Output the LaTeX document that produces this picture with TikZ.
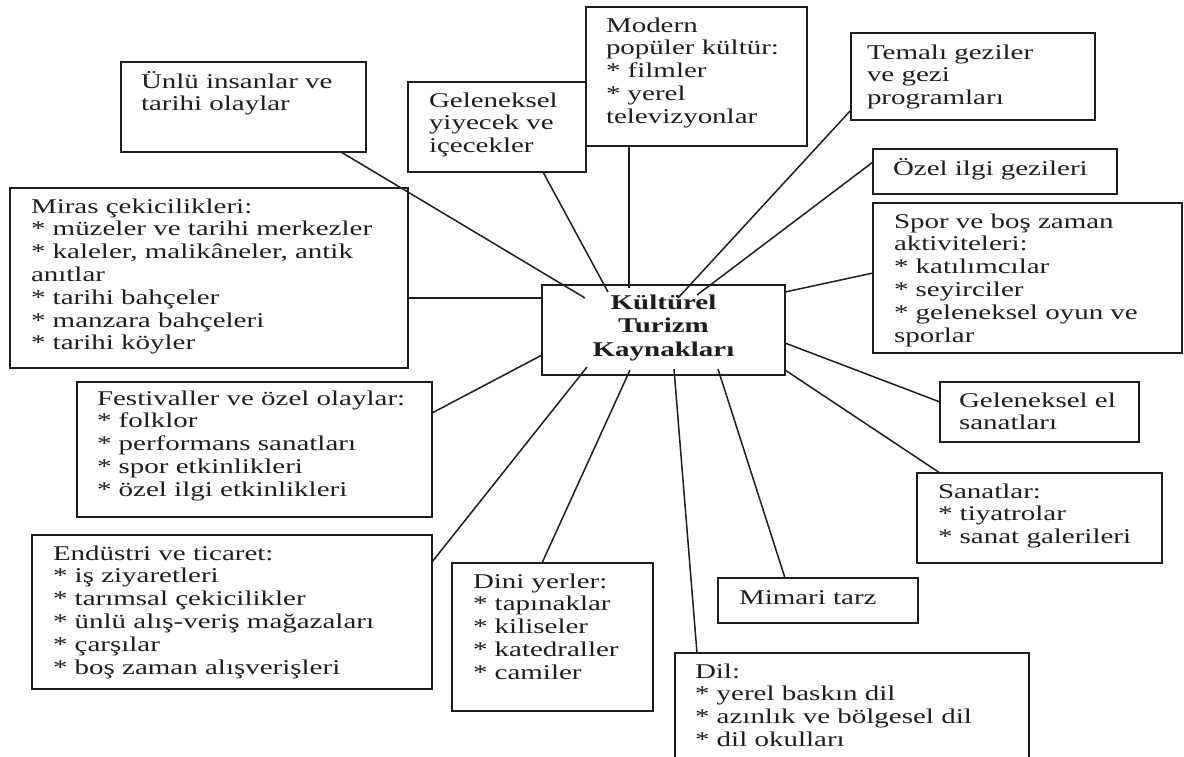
\documentclass[tikz,border=0pt]{standalone}
\usepackage{fontspec}
\setmainfont{Liberation Serif}[FakeStretch=1.38]
\usetikzlibrary{calc}
\definecolor{ink}{HTML}{1E1E1E}
\newcommand\TL[1]{\vtop{\lineskiplimit=-1000pt\halign{##\hfil\cr#1\crcr}}}
\newcommand\TC[1]{\vtop{\lineskiplimit=-1000pt\halign{\hfil##\hfil\cr#1\crcr}}}
\newcommand\mkbox[5]{\node[bx, minimum width={#4-#2}, minimum height={#5-#3}, anchor=north west] (#1) at (#2,#3) {};}
\tikzset{
  bx/.style={draw=ink, line width=1.6pt, inner sep=0pt, outer sep=0pt, rectangle},
  txt/.style={inner sep=0pt, outer sep=0pt, text=ink, anchor=base west, font=\fontsize{21}{22.8}\selectfont},
  ctxt/.style={inner sep=0pt, outer sep=0pt, text=ink, anchor=base, font=\fontsize{21}{23.5}\selectfont\bfseries},
  link/.style={draw=ink, line width=1.5pt}
}
\begin{document}
\begin{tikzpicture}[x=1pt,y=-1pt]
\useasboundingbox (0,0) rectangle (1184,756);
\fill[white] (0,0) rectangle (1184,756);
\clip (0,0) rectangle (1184,756);
% boxes
\mkbox{unlu}{121}{62}{366}{152}
\mkbox{yiy}{408}{82}{586}{172}
\mkbox{mod}{586}{7}{807}{146}
\mkbox{tem}{851}{33}{1095}{120}
\mkbox{ozel}{873}{149}{1117}{194}
\mkbox{spor}{873}{203}{1182}{353}
\mkbox{elsan}{940}{382}{1139}{442}
\mkbox{sanat}{917}{473}{1162}{563}
\mkbox{mim}{718}{578}{918}{623}
\mkbox{dil}{675}{653}{1029}{790}
\mkbox{dini}{452}{563}{653}{711}
\mkbox{endu}{32}{535}{432}{689}
\mkbox{fest}{77}{382}{432}{517}
\mkbox{miras}{10}{188}{408}{368}
\mkbox{cen}{542}{285}{785}{375}
% texts
\node[txt] (unlu-t) at (141,88) {\TL{Ünlü insanlar ve\cr tarihi olaylar}};
\node[txt] (yiy-t) at (429,107) {\TL{Geleneksel\cr yiyecek ve\cr içecekler}};
\node[txt] (mod-t) at (606,32) {\TL{Modern\cr popüler kültür:\cr * filmler\cr * yerel\cr televizyonlar}};
\node[txt] (tem-t) at (867,59) {\TL{Temalı geziler\cr ve gezi\cr programları}};
\node[txt] (ozel-t) at (893,175) {\TL{Özel ilgi gezileri}};
\node[txt] (spor-t) at (894,228) {\TL{Spor ve boş zaman\cr aktiviteleri:\cr * katılımcılar\cr * seyirciler\cr * geleneksel oyun ve\cr sporlar}};
\node[txt] (elsan-t) at (959,407) {\TL{Geleneksel el\cr sanatları}};
\node[txt] (sanat-t) at (938,498) {\TL{Sanatlar:\cr * tiyatrolar\cr * sanat galerileri}};
\node[txt] (mim-t) at (739,604) {\TL{Mimari tarz}};
\node[txt] (dil-t) at (695,678) {\TL{Dil:\cr * yerel baskın dil\cr * azınlık ve bölgesel dil\cr * dil okulları}};
\node[txt] (dini-t) at (473,588) {\TL{Dini yerler:\cr * tapınaklar\cr * kiliseler\cr * katedraller\cr * camiler}};
\node[txt] (endu-t) at (53,560) {\TL{Endüstri ve ticaret:\cr * iş ziyaretleri\cr * tarımsal çekicilikler\cr * ünlü alış-veriş mağazaları\cr * çarşılar\cr * boş zaman alışverişleri}};
\node[txt] (fest-t) at (97,405) {\TL{Festivaller ve özel olaylar:\cr * folklor\cr * performans sanatları\cr * spor etkinlikleri\cr * özel ilgi etkinlikleri}};
\node[txt] (miras-t) at (31,213) {\TL{Miras çekicilikleri:\cr * müzeler ve tarihi merkezler\cr * kaleler, malikâneler, antik\cr anıtlar\cr * tarihi bahçeler\cr * manzara bahçeleri\cr * tarihi köyler}};
\node[ctxt] (cen-t) at (663.5,309) {\TC{Kültürel\cr Turizm\cr Kaynakları}};
% connectors
\draw[link] ($(unlu.south west)+(220,0)$) -- ($(cen.north west)+(43,13)$);
\draw[link] ($(yiy.south west)+(135,0)$) -- ($(cen.north west)+(66,7)$);
\draw[link] ($(mod.south west)+(43,0)$) -- ($(cen.north west)+(87,3)$);
\draw[link] ($(tem.south west)+(0,-10)$) -- ($(cen.north west)+(136,13)$);
\draw[link] ($(ozel.north west)+(0,13)$) -- ($(cen.north west)+(155,10)$);
\draw[link] ($(spor.north west)+(0,70)$) -- ($(cen.north east)+(0,7)$);
\draw[link] ($(miras.north east)+(0,110)$) -- ($(cen.north west)+(0,13)$);
\draw[link] ($(fest.north east)+(0,31)$) -- ($(cen.north west)+(0,70)$);
\draw[link] ($(endu.north east)+(0,27)$) -- ($(cen.south west)+(45,-8)$);
\draw[link] ($(dini.north west)+(90,0)$) -- ($(cen.south west)+(88,-5)$);
\draw[link] ($(dil.north west)+(22,0)$) -- ($(cen.south west)+(132,-6)$);
\draw[link] ($(mim.north west)+(67,0)$) -- ($(cen.south west)+(176,-6)$);
\draw[link] ($(sanat.north west)+(23,0)$) -- ($(cen.south east)+(0,-5)$);
\draw[link] ($(elsan.north west)+(0,20)$) -- ($(cen.south east)+(0,-32)$);
\end{tikzpicture}
\end{document}
